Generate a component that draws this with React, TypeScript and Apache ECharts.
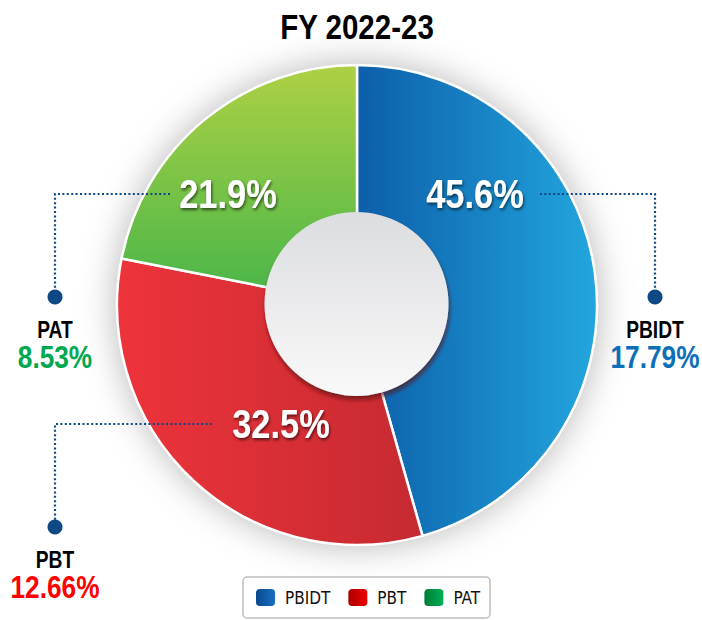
import React, { useEffect, useRef } from "react";
import * as echarts from "echarts";

const title = "FY 2022-23";
const categories = ["PBIDT", "PBT", "PAT"];
const shareValues = [45.6, 32.5, 21.9];
const marginLabels = ["17.79%", "12.66%", "8.53%"];
const FONT = "'Liberation Sans', Arial, sans-serif";
const LEGEND_FONT = "'DejaVu Sans Condensed', 'Liberation Sans', sans-serif";

const lg = (c1: string, c2: string, x2 = 1, y2 = 0) =>
  new echarts.graphic.LinearGradient(0, 0, x2, y2, [
    { offset: 0, color: c1 },
    { offset: 1, color: c2 },
  ]);

const sliceColors = [
  () => lg("#0c5ea9", "#22a6de"),
  () => lg("#ee333b", "#c62a31"),
  () => lg("#aed044", "#4cb749", 0, 1),
];
const legendColors = [
  () => lg("#08468c", "#1a72c4"),
  () => lg("#a80000", "#f00000"),
  () => lg("#007a36", "#00b356"),
];
const pctColors = ["#0e6fb8", "#ff0000", "#00a84f"];
const lineColor = "#0d4a85";

// label anchor positions for slice percentages (annotation layout)
const sliceLabelPos = [
  [475, 194],
  [281, 424],
  [228, 194],
];

const txt = (
  x: number,
  y: number,
  text: string,
  size: number,
  fill: string,
  sx: number,
  extra: any = {}
) => ({
  type: "text",
  x,
  y,
  scaleX: sx,
  z: 10,
  style: {
    text,
    font: `bold ${size}px ${FONT}`,
    fill,
    align: "center",
    verticalAlign: "middle",
    ...extra,
  },
});

export default function App() {
  const ref = useRef<HTMLDivElement>(null);
  useEffect(() => {
    document.body.style.margin = "0";
    const chart = echarts.init(ref.current!, null, { renderer: "svg" });
    const center = [357, 305];

    const callout = (
      pts: number[][],
      dot: number[],
      name: string,
      pct: string,
      color: string
    ) => [
      {
        type: "polyline",
        shape: { points: pts },
        style: { stroke: lineColor, lineWidth: 2.2, lineDash: [2, 2.4], fill: null },
        z: 10,
      },
      {
        type: "circle",
        shape: { cx: dot[0], cy: dot[1], r: 7.5 },
        style: { fill: lineColor },
        z: 10,
      },
      txt(dot[0], dot[1] + 33, name, 24, "#000", 0.8),
      txt(dot[0], dot[1] + 60, pct, 32, color, 0.82),
    ];

    const shadow = {
      textShadowColor: "rgba(0,0,0,0.6)",
      textShadowBlur: 3,
      textShadowOffsetX: 1,
      textShadowOffsetY: 2,
    };

    chart.setOption({
      animation: false,
      backgroundColor: "#fff",
      legend: {
        bottom: 2,
        left: 243,
        data: categories.map((c, i) => ({ name: c, itemStyle: { color: legendColors[i]() } })),
        icon: "roundRect",
        itemWidth: 21,
        itemHeight: 19,
        itemGap: 16,
        padding: [10, 10, 10, 11],
        borderColor: "#bdbdbd",
        borderWidth: 1.5,
        borderRadius: 4,
        backgroundColor: "#fff",
        textStyle: { fontFamily: LEGEND_FONT, fontSize: 17, color: "#111", padding: [0, 0, 0, 4] },
        selectedMode: false,
      },
      series: [
        {
          type: "pie",
          silent: true,
          center,
          radius: [0, 240],
          label: { show: false },
          labelLine: { show: false },
          itemStyle: { color: "#fff", shadowBlur: 36, shadowColor: "rgba(0,0,0,0.3)" },
          data: [{ value: 1, name: "_bg" }],
          z: 1,
        },
        {
          type: "pie",
          center,
          radius: [80, 240],
          startAngle: 90,
          clockwise: true,
          itemStyle: { borderColor: "#fff", borderWidth: 2.5 },
          label: { show: false },
          labelLine: { show: false },
          data: categories.map((c, i) => ({
            name: c,
            value: shareValues[i],
            itemStyle: { color: sliceColors[i]() },
          })),
          z: 2,
        },
        {
          type: "pie",
          silent: true,
          center: [356.5, 304],
          radius: [0, 92],
          label: { show: false },
          labelLine: { show: false },
          itemStyle: {
            color: lg("#dcdde0", "#f9f9f9", 0, 1),
            shadowBlur: 4,
            shadowOffsetX: 1,
            shadowOffsetY: 4,
            shadowColor: "rgba(90,10,10,0.7)",
          },
          data: [{ value: 1, name: "_hole" }],
          z: 3,
        },
      ],
      graphic: [
        txt(357, 26, title, 36, "#000", 0.82),
        ...shareValues.map((v, i) =>
          txt(sliceLabelPos[i][0], sliceLabelPos[i][1], `${v.toFixed(1)}%`, 41, "#fff", 0.84, shadow)
        ),
        ...callout([[540, 194], [655, 194], [655, 297]], [655, 297], categories[0], marginLabels[0], pctColors[0]),
        ...callout([[170, 194], [55, 194], [55, 297]], [55, 297], categories[2], marginLabels[2], pctColors[2]),
        ...callout([[212, 424], [55, 424], [55, 527]], [55, 527], categories[1], marginLabels[1], pctColors[1]),
      ],
    });
    return () => chart.dispose();
  }, []);
  return <div ref={ref} style={{ width: 702, height: 620 }} />;
}
